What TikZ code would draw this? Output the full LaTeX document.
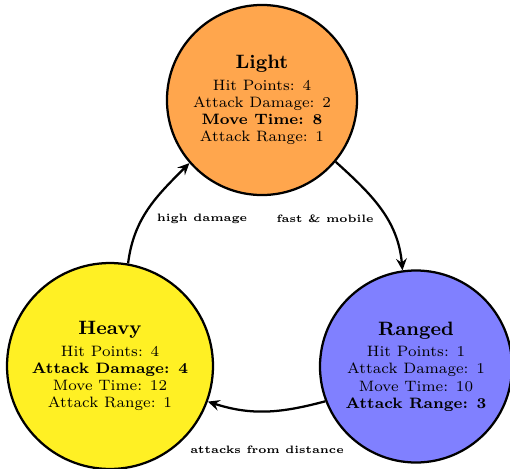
\documentclass[tikz,border=0pt]{standalone}
\usetikzlibrary{arrows.meta}
\definecolor{lightfill}{RGB}{255,166,77}
\definecolor{heavyfill}{RGB}{255,240,36}
\definecolor{rangedfill}{RGB}{128,128,255}
\begin{document}
\begin{tikzpicture}[x=0.4651pt, y=0.4651pt,
  unit/.style={circle, draw=black, line width=1.05pt, inner sep=0pt,
    align=center, font=\scriptsize},
  trans/.style={line width=1.05pt, -{Stealth[length=5.5pt, width=5pt, inset=2pt]}},
  tag/.style={font=\tiny\bfseries, inner sep=1pt}]
  \useasboundingbox (0,0) rectangle (510,468);

  % unit classes
  \node[unit, fill=lightfill, minimum size=88.4pt] (light) at (262,368)
    {{\small\bfseries Light}\\[2pt]
     Hit Points: 4\\ Attack Damage: 2\\ \textbf{Move Time: 8}\\ Attack Range: 1};
  \node[unit, fill=heavyfill, minimum size=95.8pt] (heavy) at (110,102)
    {{\small\bfseries Heavy}\\[2pt]
     Hit Points: 4\\ \textbf{Attack Damage: 4}\\ Move Time: 12\\ Attack Range: 1};
  \node[unit, fill=rangedfill, minimum size=89.3pt] (ranged) at (416,101.5)
    {{\small\bfseries Ranged}\\[2pt]
     Hit Points: 1\\ Attack Damage: 1\\ Move Time: 10\\ \textbf{Attack Range: 3}};

  % transitions between classes
  \draw[trans] (heavy.80) to[out=83, in=225] (light.221);
  \draw[trans] (light.-40) to[out=-42, in=95] (ranged.98);
  \draw[trans] (ranged.201) to[out=195, in=-18] (heavy.-20);

  % transition labels
  \node[tag] (lbl1) at (202,249) {high damage};
  \node[tag] (lbl2) at (325,249) {fast \& mobile};
  \node[tag] (lbl3) at (267,18) {attacks from distance};
\end{tikzpicture}
\end{document}
